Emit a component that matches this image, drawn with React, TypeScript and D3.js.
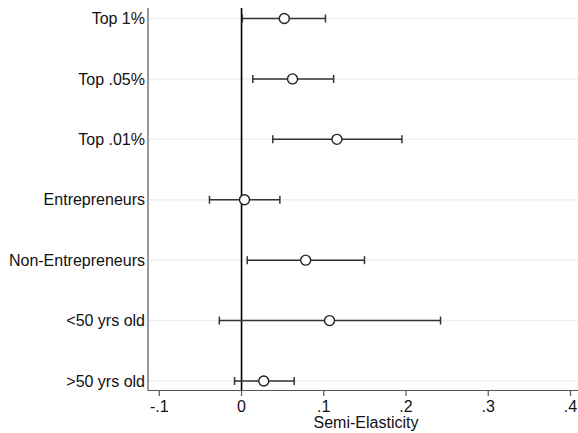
import React from "react";
import * as d3 from "d3";

const categories = ["Top 1%", "Top .05%", "Top .01%", "Entrepreneurs", "Non-Entrepreneurs", "<50 yrs old", ">50 yrs old"];
const estimates = [0.052, 0.062, 0.116, 0.0036, 0.078, 0.107, 0.027];
const lowerCI = [0.001, 0.0137, 0.038, -0.039, 0.0069, -0.027, -0.0085];
const upperCI = [0.102, 0.112, 0.195, 0.0466, 0.1495, 0.242, 0.064];
const xTicks = [-0.1, 0, 0.1, 0.2, 0.3, 0.4];
const xTickLabels = ["-.1", "0", ".1", ".2", ".3", ".4"];
const xTitle = "Semi-Elasticity";

const W = 578, H = 433;
const left = 148, right = 578, top = 8, bottom = 390.5;

export default function App() {
  const x = d3.scaleLinear().domain([-0.1, 0.4]).range([159.3, 570.5]);
  const y = d3.scalePoint<string>().domain(categories).range([18.5, 381]);
  const font = "Liberation Sans, Arial, Helvetica, sans-serif";
  return (
    <svg width={W} height={H} style={{ position: "absolute", left: 0, top: 0 }} fontFamily={font}>
      <rect x={0} y={0} width={W} height={H} fill="#fff" />
      {categories.map((c) => (
        <line key={"g" + c} x1={left} x2={right} y1={y(c)} y2={y(c)} stroke="#eaf1f3" strokeWidth={1.5} />
      ))}
      <line x1={x(0)} x2={x(0)} y1={top} y2={bottom} stroke="#000" strokeWidth={1.6} />
      {categories.map((c, i) => {
        const yy = y(c)!;
        return (
          <g key={c}>
            <line x1={x(lowerCI[i])} x2={x(upperCI[i])} y1={yy} y2={yy} stroke="#333" strokeWidth={1.5} />
            <line x1={x(lowerCI[i])} x2={x(lowerCI[i])} y1={yy - 4} y2={yy + 4} stroke="#333" strokeWidth={1.5} />
            <line x1={x(upperCI[i])} x2={x(upperCI[i])} y1={yy - 4} y2={yy + 4} stroke="#333" strokeWidth={1.5} />
            <circle cx={x(estimates[i])} cy={yy} r={5} fill="#fff" stroke="#222" strokeWidth={1.4} />
            <text x={145} y={yy} dy="0.35em" textAnchor="end" fontSize={16} fill="#111">{c}</text>
          </g>
        );
      })}
      <line x1={left} x2={left} y1={top} y2={bottom} stroke="#555" strokeWidth={1.2} />
      <line x1={left} x2={right} y1={bottom} y2={bottom} stroke="#555" strokeWidth={1.2} />
      {xTicks.map((t, i) => (
        <g key={"t" + t}>
          <line x1={x(t)} x2={x(t)} y1={bottom} y2={bottom + 5.5} stroke="#555" strokeWidth={1.2} />
          <text x={x(t)} y={412} textAnchor="middle" fontSize={16} fill="#111">{xTickLabels[i]}</text>
        </g>
      ))}
      <text x={366} y={428.3} textAnchor="middle" fontSize={16} fill="#111">{xTitle}</text>
    </svg>
  );
}
